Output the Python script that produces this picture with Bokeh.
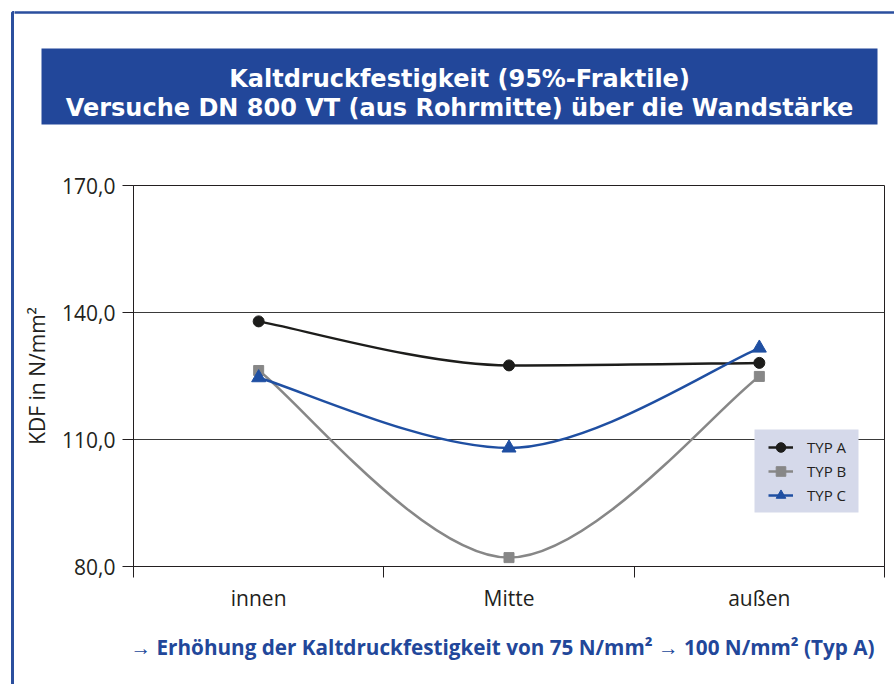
from bokeh.plotting import figure
from bokeh.layouts import row, column
from bokeh.models import Range1d, FixedTicker, BoxAnnotation, Label, Legend, LegendItem
from bokeh.embed import file_html
from bokeh.resources import INLINE

# ---------------- data ----------------
categories = ["innen", "Mitte", "außen"]
series_names = ["TYP A", "TYP B", "TYP C"]
typ_a = [137.9, 127.5, 128.1]
typ_b = [126.3, 82.1, 124.9]
typ_c = [124.6, 108.0, 131.6]
y_ticks = [80, 110, 140, 170]
y_tick_labels = ["80,0", "110,0", "140,0", "170,0"]
title_lines = ["Kaltdruckfestigkeit (95%-Fraktile)",
               "Versuche DN 800 VT (aus Rohrmitte) über die Wandstärke"]
y_label = "KDF in N/mm²"
note = "→ Erhöhung der Kaltdruckfestigkeit von 75 N/mm² → 100 N/mm² (Typ A)"

BLUE = "#22479a"
BORDER = "#2b4f9e"
INK = "#231f20"
FONT = "Open Sans"
TITLE_FONT = "DejaVu Sans"
WIN_W, WIN_H = 894, 684
STRIP_W = 14
TOP_H = 150
MAIN_H = 470
BOT_H = WIN_H - TOP_H - MAIN_H
RIGHT_W = WIN_W - STRIP_W


def deco_fig(w, h, x0, x1, y0, y1):
    f = figure(width=w, height=h, output_backend="svg", toolbar_location=None,
               x_range=Range1d(x0, x1), y_range=Range1d(y1, y0),
               x_axis_type=None, y_axis_type=None,
               min_border=0, min_border_left=0, min_border_right=0,
               min_border_top=0, min_border_bottom=0)
    f.outline_line_color = None
    f.background_fill_color = "white"
    f.border_fill_color = "white"
    return f


# ---------- left strip: blue page border ----------
strip = deco_fig(STRIP_W, WIN_H, 0, STRIP_W, 0, WIN_H)
strip.add_layout(BoxAnnotation(left=12, right=500, top=12, bottom=5000,
                               fill_alpha=0, line_color=BORDER, line_alpha=1, line_width=3))

# ---------- top: border + title box ----------
top = deco_fig(RIGHT_W, TOP_H, STRIP_W, WIN_W, 0, TOP_H)
top.add_layout(BoxAnnotation(left=-500, right=5000, top=12, bottom=5000,
                             fill_alpha=0, line_color=BORDER, line_alpha=1, line_width=2.5))
top.add_layout(BoxAnnotation(left=41, right=877, top=48, bottom=124,
                             fill_color=BLUE, fill_alpha=1, line_color=None))
for txt, base in zip(title_lines, [78, 107]):
    top.add_layout(Label(x=459, y=base, text=txt, text_align="center",
                         text_baseline="alphabetic", text_color="white",
                         text_font=TITLE_FONT, text_font_style="bold", text_font_size="24px"))

# ---------- main chart ----------
FL, FR, FT, FB = 133, 884, 185, 566   # frame edges in window px
p = figure(width=RIGHT_W, height=MAIN_H, output_backend="svg", toolbar_location=None,
           x_range=Range1d(0, len(categories)), y_range=Range1d(y_ticks[0], y_ticks[-1]),
           min_border_left=FL - STRIP_W, min_border_right=WIN_W - FR,
           min_border_top=FT - TOP_H, min_border_bottom=TOP_H + MAIN_H - FB)
p.background_fill_color = "white"
p.border_fill_color = "white"
p.outline_line_color = INK
p.outline_line_width = 1

xpos = [i + 0.5 for i in range(len(categories))]

p.yaxis.ticker = FixedTicker(ticks=y_ticks)
p.yaxis.major_label_overrides = {t: l for t, l in zip(y_ticks, y_tick_labels)}
p.yaxis.major_tick_out = 11
p.yaxis.major_tick_in = 0
p.yaxis.major_label_standoff = 7
p.yaxis.major_label_text_font = FONT
p.yaxis.major_label_text_font_size = "21px"
p.yaxis.major_label_text_color = INK
p.yaxis.axis_line_color = INK
p.yaxis.major_tick_line_color = INK
p.yaxis.axis_label = y_label
p.yaxis.axis_label_text_font = FONT
p.yaxis.axis_label_text_font_size = "21px"
p.yaxis.axis_label_text_font_style = "normal"
p.yaxis.axis_label_text_color = INK
p.yaxis.axis_label_standoff = 8

p.xaxis.ticker = FixedTicker(ticks=xpos, minor_ticks=list(range(len(categories) + 1)))
p.xaxis.major_label_overrides = {x: c for x, c in zip(xpos, categories)}
p.xaxis.major_tick_out = 0
p.xaxis.major_tick_in = 0
p.xaxis.minor_tick_out = 11
p.xaxis.minor_tick_in = 0
p.xaxis.minor_tick_line_color = INK
p.xaxis.axis_line_color = INK
p.xaxis.major_label_standoff = 6
p.xaxis.major_label_text_font = FONT
p.xaxis.major_label_text_font_size = "21px"
p.xaxis.major_label_text_color = INK

p.xgrid.visible = False
p.ygrid.ticker = FixedTicker(ticks=y_ticks[1:-1])
p.ygrid.grid_line_color = "#3a3a3a"
p.ygrid.grid_line_width = 1


# smoothed lines: cubic bezier segments, flat tangent at local extrema
def bez(xs, ys):
    n = len(xs)
    m = []
    for i in range(n):
        if i == 0 or i == n - 1:
            m.append(None)
        elif (ys[i] - ys[i - 1]) * (ys[i + 1] - ys[i]) <= 0:
            m.append(0.0)
        else:
            m.append((ys[i + 1] - ys[i - 1]) / (xs[i + 1] - xs[i - 1]))
    d = dict(x0=[], y0=[], x1=[], y1=[], cx0=[], cy0=[], cx1=[], cy1=[])
    for i in range(n - 1):
        dx = xs[i + 1] - xs[i]
        d["x0"].append(xs[i]); d["y0"].append(ys[i])
        d["x1"].append(xs[i + 1]); d["y1"].append(ys[i + 1])
        if m[i] is None:
            d["cx0"].append(xs[i] + dx / 6); d["cy0"].append(ys[i] + (ys[i + 1] - ys[i]) / 6)
        else:
            d["cx0"].append(xs[i] + dx / 3); d["cy0"].append(ys[i] + m[i] * dx / 3)
        if m[i + 1] is None:
            d["cx1"].append(xs[i + 1] - dx / 6); d["cy1"].append(ys[i + 1] - (ys[i + 1] - ys[i]) / 6)
        else:
            d["cx1"].append(xs[i + 1] - dx / 3); d["cy1"].append(ys[i + 1] - m[i + 1] * dx / 3)
    return d


# legend background panel (drawn in data space, behind the legend items)
def to_x(px):
    return (px - FL) / (FR - FL) * len(categories)


def to_y(py):
    return y_ticks[-1] - (py - FT) / (FB - FT) * (y_ticks[-1] - y_ticks[0])


p.add_layout(BoxAnnotation(left=to_x(754), right=to_x(858), top=to_y(429), bottom=to_y(512),
                           fill_color="#d5d9ea", fill_alpha=1, line_color=None))

styles = [("#1d1d1b", "circle", 11), ("#878787", "square", 10), ("#1f4fa2", "triangle", 14)]
items = []
for name, vals, (col, mk, sz) in zip(series_names, [typ_a, typ_b, typ_c], styles):
    b = p.bezier(**bez(xpos, vals), line_color=col, line_width=2.5)
    s = p.scatter(xpos, vals, marker=mk, size=sz, fill_color=col, line_color=col)
    items.append(LegendItem(label=name, renderers=[b, s]))

legend = Legend(items=items, location=(768 - FL, FB - 507),
                background_fill_alpha=0, border_line_color=None,
                padding=0, spacing=0, margin=0,
                glyph_width=25, glyph_height=24, label_height=24, label_standoff=14,
                label_text_font=FONT, label_text_font_size="15px", label_text_color=INK)
p.add_layout(legend)

# ---------- bottom: note ----------
bot = deco_fig(RIGHT_W, BOT_H, STRIP_W, WIN_W, TOP_H + MAIN_H, WIN_H)
bot.add_layout(Label(x=502, y=646, text=note, text_align="center",
                     text_baseline="alphabetic", text_color=BLUE,
                     text_font=FONT, text_font_style="bold", text_font_size="20.7px"))

layout = row(strip, column(column(top), column(p), column(bot)))
open("out.html", "w").write(file_html(layout, INLINE))
